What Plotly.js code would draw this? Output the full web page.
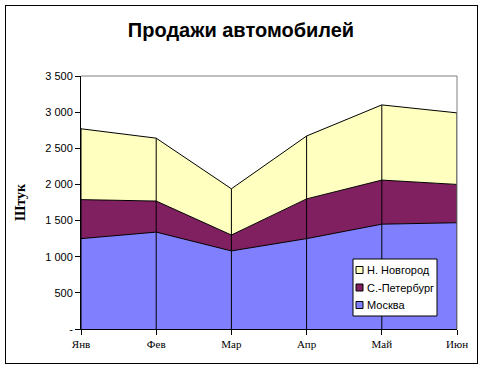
<!DOCTYPE html>
<html>
<head>
<meta charset="utf-8">
<script src="https://cdn.plot.ly/plotly-3.0.1.min.js"></script>
<style>
html,body{margin:0;padding:0;background:#fff;}
#wrap{position:relative;width:482px;height:368px;}
#chart{position:absolute;left:0;top:0;width:482px;height:368px;}
#frame{position:absolute;left:5px;top:5px;width:473px;height:359px;border:1px solid #000;box-sizing:border-box;pointer-events:none;}
</style>
</head>
<body>
<div id="wrap"><div id="chart"></div><div id="frame"></div></div>
<script>
const months = ['Янв','Фев','Мар','Апр','Май','Июн'];
const moscow = [1250,1340,1080,1250,1450,1470];
const spb = [540,430,220,550,610,530];
const nnov = [980,870,640,870,1040,990];
const seriesNames = ['Москва','С.-Петербург','Н. Новгород'];
const seriesColors = ['#8080FF','#802060','#FFFFC0'];
const yTickVals = [0,500,1000,1500,2000,2500,3000,3500];
const yTickText = ['-','500','1 000','1 500','2 000','2 500','3 000','3 500'];

const seriesData = [moscow, spb, nnov];
const totals = months.map((m,i)=>moscow[i]+spb[i]+nnov[i]);

const traces = [];
seriesData.forEach((vals,k)=>{
  traces.push({
    type:'scatter', mode:'lines', x:months, y:vals, stackgroup:'one',
    name:seriesNames[k], showlegend:false, hoverinfo:'skip',
    line:{color:'#000', width:1}, fillcolor:seriesColors[k]
  });
});
// drop lines
const dx=[], dy=[];
months.forEach((m,i)=>{ dx.push(m,m,null); dy.push(0,totals[i],null); });
traces.push({type:'scatter', mode:'lines', x:dx, y:dy, showlegend:false, hoverinfo:'skip', line:{color:'#000', width:1}});

// plot area in pixels (for legend placement)
const PL=81, PR=457, PT=76, PB=329;
const px = v => (v-PL)/(PR-PL);
const py = v => (PB-v)/(PB-PT);

const shapes = [
  {type:'line', xref:'paper', yref:'paper', x0:0, x1:1, y0:1, y1:1, line:{color:'#808080', width:1}},
  {type:'line', xref:'paper', yref:'paper', x0:1, x1:1, y0:0, y1:1, line:{color:'#808080', width:1}},
  {type:'rect', xref:'paper', yref:'paper', x0:px(353), x1:px(437), y0:py(316), y1:py(259), line:{color:'#000', width:1}, fillcolor:'#fff', layer:'above'}
];
const annotations = [];
// legend entries, top to bottom: reversed series order
const legendOrder = [2,1,0];
legendOrder.forEach((k,j)=>{
  const cy = 270 + j*17.5;
  shapes.push({type:'rect', xref:'paper', yref:'paper', x0:px(356), x1:px(363), y0:py(cy+3.5), y1:py(cy-3.5),
    line:{color:'#000', width:1}, fillcolor:seriesColors[k], layer:'above'});
  annotations.push({xref:'paper', yref:'paper', x:px(365), y:py(cy), xanchor:'left', yanchor:'middle', showarrow:false,
    text:seriesNames[k], font:{family:'Liberation Sans, Arial, sans-serif', size:11, color:'#000'}});
});

const layout = {
  width:482, height:368,
  margin:{l:PL, r:482-PR, t:PT, b:368-PB},
  paper_bgcolor:'#fff', plot_bgcolor:'#fff',
  font:{family:'Liberation Sans, Arial, sans-serif', size:11, color:'#000'},
  title:{text:'Продажи автомобилей', font:{family:'Liberation Sans, Arial, sans-serif', size:20, color:'#000', weight:'bold'}, x:0.5, xanchor:'center', y:1-30/368, yanchor:'middle', yref:'container'},
  xaxis:{type:'category', categoryorder:'array', categoryarray:months, range:[0, months.length-1],
    showgrid:false, zeroline:false, showline:true, linecolor:'#000', linewidth:1,
    ticks:'outside', ticklen:5, tickcolor:'#000',
    tickfont:{family:'Liberation Serif, Times New Roman, serif', size:11, color:'#000'}},
  yaxis:{range:[0,3500], tickvals:yTickVals, ticktext:yTickText,
    showgrid:false, zeroline:false, showline:true, linecolor:'#000', linewidth:1,
    ticks:'outside', ticklen:5, tickcolor:'#000',
    tickfont:{family:'Liberation Sans, Arial, sans-serif', size:11, color:'#000'},
    title:{text:'Штук', font:{family:'Liberation Serif, Times New Roman, serif', size:14, color:'#000', weight:'bold'}, standoff:16}},
  shapes:shapes,
  annotations:annotations,
  showlegend:false
};
Plotly.newPlot('chart', traces, layout, {staticPlot:true, displayModeBar:false});
</script>
</body>
</html>
